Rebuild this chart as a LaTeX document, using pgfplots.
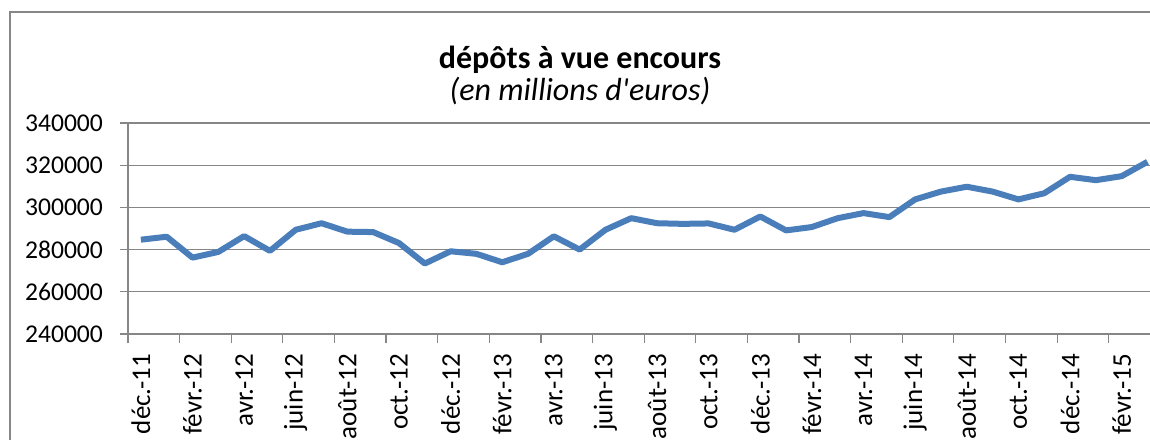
\documentclass[border=0pt]{standalone}
\usepackage{fontspec}
\setmainfont{Carlito}
\usepackage{pgfplots}
\pgfplotsset{compat=1.18}

\definecolor{excelblue}{RGB}{74,126,187}
\definecolor{gridgray}{RGB}{134,134,134}

\pgfplotstableread{
idx value
0 284700
1 286100
2 276200
3 278900
4 286400
5 279400
6 289400
7 292500
8 288500
9 288300
10 283100
11 273400
12 279200
13 278000
14 274000
15 278000
16 286300
17 280000
18 289400
19 294900
20 292500
21 292200
22 292400
23 289400
24 295700
25 289100
26 290700
27 294900
28 297300
29 295400
30 303800
31 307500
32 309800
33 307500
34 303800
35 306700
36 314500
37 312900
38 314800
39 321600
}\depots

\begin{document}
\begin{tikzpicture}
\useasboundingbox (0,0) rectangle (575pt,-219.5pt);
\clip (0,0) rectangle (575pt,-219.5pt);
\fill[white] (0,0) rectangle (575pt,-219.5pt);
% chart area border (right and bottom fall outside the crop)
\draw[gridgray, line width=0.6pt] (5pt,-6pt) rectangle (600pt,-240pt);

\node[anchor=base, font=\fontsize{16}{19}\selectfont\bfseries] at (290pt,-34pt) {dépôts à vue encours};
\node[anchor=base, font=\fontsize{16}{19}\selectfont\itshape] at (290pt,-50pt) {(en millions d\textquotesingle euros)};

\begin{axis}[
    at={(64pt,-167pt)}, anchor=south west,
    scale only axis,
    width=511pt, height=105.5pt,
    xmin=-0.5, xmax=39.1,
    ymin=240000, ymax=340000,
    ytick={240000,260000,...,340000},
    scaled y ticks=false,
    ymajorgrids,
    grid style={gridgray, line width=0.6pt},
    axis lines*=left,
    axis line style={gridgray, line width=0.6pt},
    tick align=outside,
    tick style={gridgray, line width=0.6pt},
    major tick length=4pt,
    tick label style={font=\fontsize{13.5}{16}\selectfont},
    /pgf/number format/.cd, fixed, set thousands separator={}, assume math mode=true,
    /pgfplots/.cd,
    y tick label style={font=\fontsize{12.8}{15}\selectfont, xshift=-5pt},
    xtick={0,2,...,38},
    xticklabels={déc.-11, févr.-12, avr.-12, juin-12, août-12, oct.-12, déc.-12, févr.-13, avr.-13, juin-13, août-13, oct.-13, déc.-13, févr.-14, avr.-14, juin-14, août-14, oct.-14, déc.-14, févr.-15},
    xtick style={draw=none},
    x tick label style={rotate=90, anchor=east},
    xticklabel shift=2.5pt,
    extra x ticks={-0.5,1.5,...,37.5},
    extra x tick labels={},
    extra x tick style={xtick style={draw=gridgray, line width=0.6pt}, major tick length=4.5pt},
    clip=false,
]
\addplot[excelblue, line width=3pt, line join=round, no marks] table[x=idx, y=value] {\depots};
\end{axis}
\end{tikzpicture}
\end{document}
